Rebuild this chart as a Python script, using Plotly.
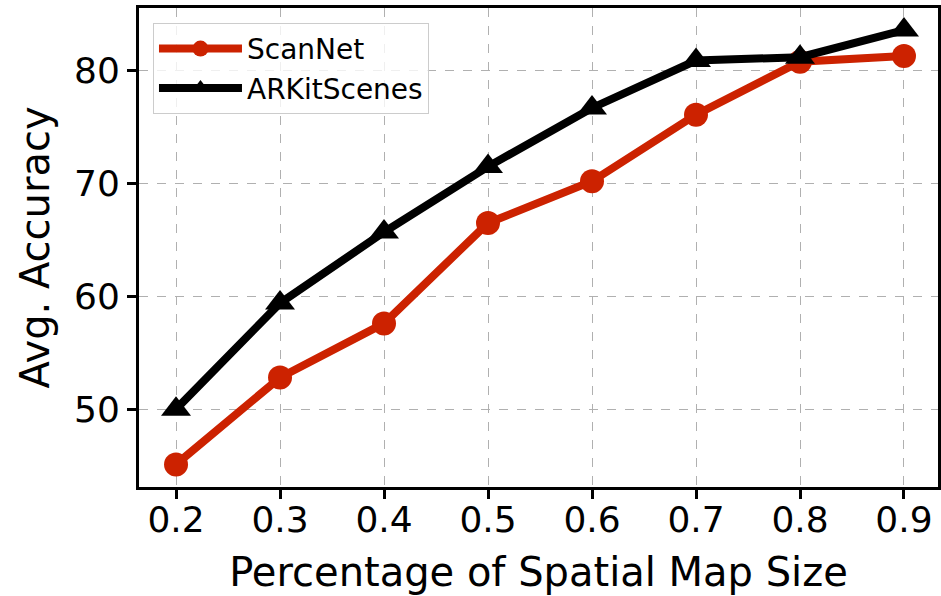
import plotly.graph_objects as go

x_vals = [0.2, 0.3, 0.4, 0.5, 0.6, 0.7, 0.8, 0.9]
scannet = [45.1, 52.8, 57.6, 66.5, 70.2, 76.1, 80.8, 81.3]
arkit = [50.0, 59.4, 65.7, 71.5, 76.7, 80.9, 81.2, 83.6]
x_ticks = [0.2, 0.3, 0.4, 0.5, 0.6, 0.7, 0.8, 0.9]
x_tick_labels = ["0.2", "0.3", "0.4", "0.5", "0.6", "0.7", "0.8", "0.9"]
y_ticks = [50, 60, 70, 80]
y_tick_labels = ["50", "60", "70", "80"]

RED = "#cc2200"
FONT = "DejaVu Sans"

fig = go.Figure()
fig.add_trace(go.Scatter(
    x=x_vals, y=scannet, name="ScanNet", mode="lines+markers",
    line=dict(color=RED, width=8),
    marker=dict(symbol="circle", size=24, color=RED),
))
fig.add_trace(go.Scatter(
    x=x_vals, y=arkit, name="ARKitScenes", mode="lines+markers",
    line=dict(color="black", width=8),
    marker=dict(symbol="triangle-up", size=26, color="black"),
))

axis_common = dict(
    showline=True, linecolor="black", linewidth=3, mirror=True,
    ticks="outside", ticklen=9, tickwidth=3, tickcolor="black",
    showgrid=True, gridcolor="#b0b0b0", gridwidth=1.2, griddash="dash",
    zeroline=False, automargin=False,
    tickfont=dict(family=FONT, size=36, color="black"),
)

fig.update_xaxes(
    range=[0.1644, 0.9327], tickvals=x_ticks, ticktext=x_tick_labels,
    ticklabelstandoff=-10,
    title=dict(text="Percentage of Spatial Map Size",
               font=dict(family=FONT, size=40, color="black"), standoff=19),
    **axis_common,
)
fig.update_yaxes(
    range=[43.1, 85.56], tickvals=y_ticks, ticktext=y_tick_labels,
    title=dict(text="Avg. Accuracy",
               font=dict(family=FONT, size=40, color="black"), standoff=12),
    **axis_common,
)

fig.update_layout(
    width=941, height=596,
    margin=dict(l=139, r=3, t=8, b=109),
    plot_bgcolor="white", paper_bgcolor="white",
    font=dict(family=FONT, color="black"),
    legend=dict(
        x=0.0175, y=0.969, xanchor="left", yanchor="top",
        bgcolor="rgba(255,255,255,0.8)", bordercolor="#cccccc", borderwidth=1,
        font=dict(family=FONT, size=28, color="black"),
        itemwidth=83, tracegroupgap=0,
    ),
)

fig.write_html(
    "out.html",
    config={"displayModeBar": False},
    post_script="document.body.style.margin='0';document.body.style.overflow='hidden';",
)
